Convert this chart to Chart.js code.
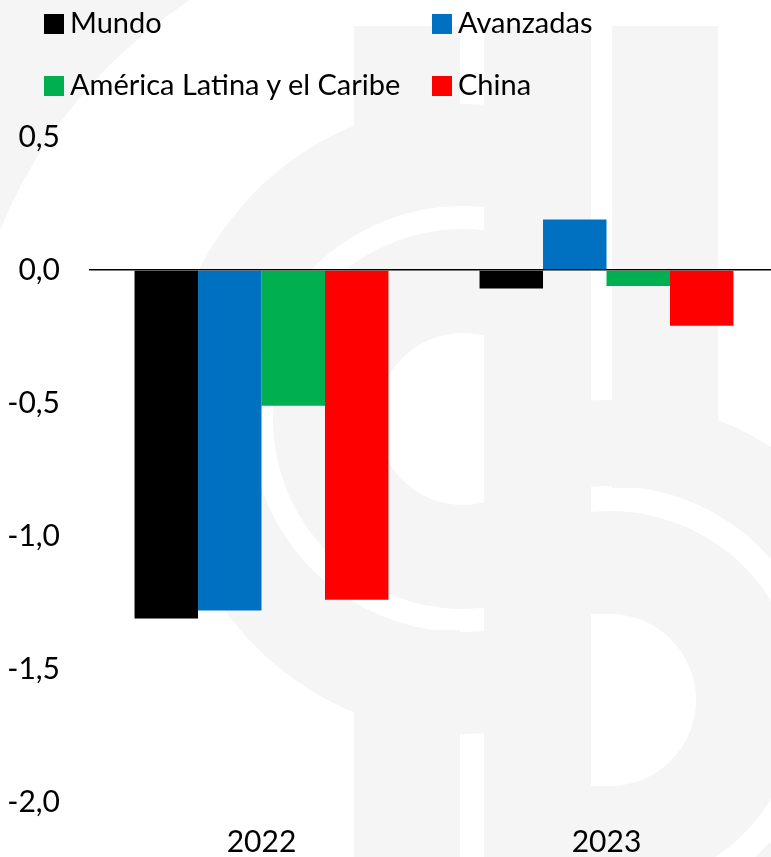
<!DOCTYPE html>
<html>
<head>
<meta charset="utf-8">
<script src="https://cdn.jsdelivr.net/npm/chart.js@4"></script>
<style>
  html, body { margin: 0; padding: 0; background: #fff; overflow: hidden; }
  #wrap { position: relative; width: 771px; height: 857px; overflow: hidden; }
  #chart { position: absolute; left: 0; top: 0; }
  .legend-item { position: absolute; font-family: Lato, sans-serif; font-size: 29px; color: #000; white-space: nowrap; line-height: 34px; }
  .legend-item span.box { display: inline-block; width: 20px; height: 20px; margin-right: 6px; vertical-align: -1px; }
</style>
</head>
<body>
<div id="wrap">
  <canvas id="chart" width="779" height="857"></canvas>
</div>
<script>
// Chart data
const years = ['2022', '2023'];
const seriesNames = ['Mundo', 'Avanzadas', 'América Latina y el Caribe', 'China'];
const seriesColors = ['#000000', '#0070c0', '#00b050', '#ff0000'];
const mundo = [-1.31, -0.07];
const avanzadas = [-1.28, 0.19];
const latam = [-0.51, -0.06];
const china = [-1.24, -0.21];
const yMin = -2.0;
const yMax = 0.5;
const yStep = 0.5;

document.addEventListener('DOMContentLoaded', function() {
    const values = [mundo, avanzadas, latam, china];

    // Legend in two columns, two rows
    const wrap = document.getElementById('wrap');
    const legendPos = [[44, 5], [432, 5], [44, 67], [432, 67]];
    seriesNames.forEach((name, i) => {
        const item = document.createElement('div');
        item.className = 'legend-item';
        item.style.left = legendPos[i][0] + 'px';
        item.style.top = legendPos[i][1] + 'px';
        item.innerHTML = '<span class="box" style="background:' + seriesColors[i] + '"></span>' + name;
        wrap.appendChild(item);
    });

    // Faint logo behind the chart
    const watermark = {
        id: 'watermark',
        beforeDraw(chart) {
            const c = chart.ctx;
            const gray = '#f5f5f5';
            const white = '#ffffff';
            function disc(x, y, rx, ry, color) {
                c.fillStyle = color;
                c.beginPath(); c.ellipse(x, y, rx, ry, 0, 0, Math.PI * 2); c.fill();
            }
            // top-left corner, outside a big circle
            c.save();
            c.beginPath(); c.rect(0, 0, 300, 260); c.clip();
            c.fillStyle = gray;
            c.fillRect(0, 0, 300, 260);
            disc(463, 419, 500, 500, white);
            c.restore();

            // left bowl
            c.save();
            c.beginPath(); c.rect(0, 0, 484, 857); c.clip();
            disc(463, 419, 300, 315, gray);
            disc(463, 419, 213, 213, white);
            disc(463, 419, 190, 190, gray);
            disc(463, 419, 86, 86, white);
            c.restore();
            c.fillStyle = gray;
            c.fillRect(354, 26, 106, 180);
            c.fillRect(354, 630, 106, 227);

            // right bowl
            c.save();
            c.beginPath(); c.rect(591, 0, 200, 857); c.clip();
            disc(610, 700, 300, 300, gray);
            disc(610, 700, 214, 214, white);
            disc(610, 700, 189, 189, gray);
            disc(610, 700, 86, 86, white);
            c.fillStyle = white;
            c.fillRect(590, 614, 20, 172);
            c.restore();
            c.fillStyle = gray;
            c.fillRect(612, 26, 106, 462);

            // centre stem
            c.fillRect(484, 26, 107, 831);
        }
    };

    const ctx = document.getElementById('chart');
    new Chart(ctx, {
        type: 'bar',
        data: {
            labels: years,
            datasets: seriesNames.map((name, i) => ({
                label: name,
                data: values[i],
                backgroundColor: seriesColors[i],
                borderWidth: 0,
                barPercentage: 1.0,
                categoryPercentage: 0.736
            }))
        },
        options: {
            responsive: false,
            animation: false,
            layout: { padding: { top: 137, right: 0, bottom: 0, left: 0 } },
            plugins: {
                legend: { display: false },
                tooltip: { enabled: false }
            },
            scales: {
                x: {
                    grid: { display: false },
                    border: { display: false },
                    ticks: { color: '#000', padding: 14, font: { family: 'Lato', size: 30 } },
                    afterFit(scale) { scale.height = 55; }
                },
                y: {
                    min: yMin,
                    max: yMax,
                    border: { display: false },
                    grid: {
                        drawTicks: false,
                        color: c => (c.tick && c.tick.value === 0 ? '#000' : 'transparent'),
                        lineWidth: 1.5
                    },
                    ticks: {
                        stepSize: yStep,
                        color: '#000',
                        padding: 29,
                        font: { family: 'Lato', size: 30 },
                        callback: v => v.toFixed(1).replace('.', ',')
                    },
                    afterFit(scale) { scale.width = 89; }
                }
            }
        },
        plugins: [watermark]
    });
});
</script>
</body>
</html>
